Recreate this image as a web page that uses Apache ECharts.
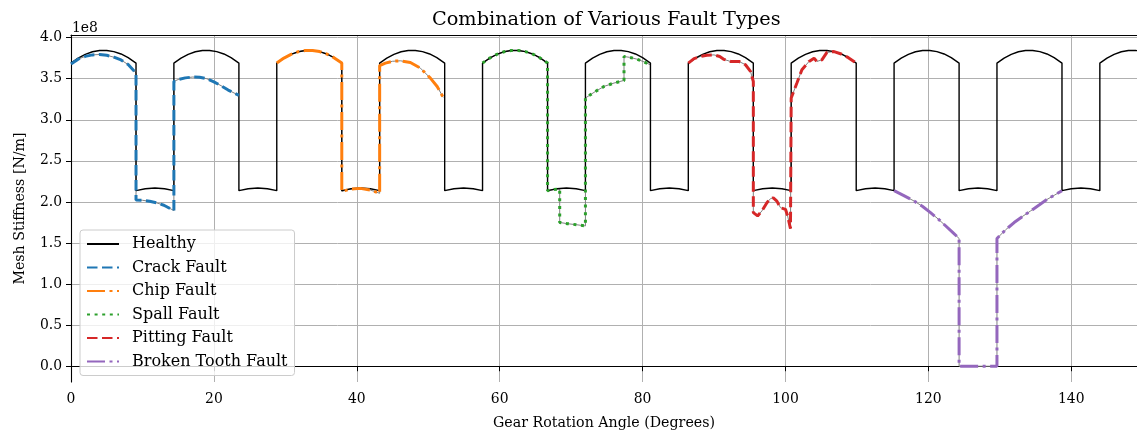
<!DOCTYPE html>
<html><head><meta charset="utf-8">
<script src="https://cdn.jsdelivr.net/npm/echarts@6/dist/echarts.min.js"></script>
<style>html,body{margin:0;padding:0;background:#fff}#c{width:1137px;height:435px}</style>
</head><body><div id="c"></div>
<script>
// x: gear rotation angle (degrees); y: mesh stiffness in units of 1e8 N/m
const xTicks = [0, 20, 40, 60, 80, 100, 120, 140];
const yTicks = [0, 0.5, 1, 1.5, 2, 2.5, 3, 3.5, 4];
const seriesNames = ['Healthy', 'Crack Fault', 'Chip Fault', 'Spall Fault', 'Pitting Fault', 'Broken Tooth Fault'];

const healthy = [
  [0,3.690],[1,3.751],[2,3.797],[3,3.828],[4,3.844],[5,3.844],[6,3.830],[7,3.801],[8,3.756],[9.1,3.690],[9.1,2.137],[10.4,2.161],[11.75,2.169],[13.1,2.161],[14.4,2.137],
  [14.4,3.690],[15.4,3.751],[16.4,3.797],[17.4,3.828],[18.4,3.844],[19.4,3.844],[20.4,3.830],[21.4,3.801],[22.4,3.756],[23.5,3.690],[23.5,2.137],[24.8,2.161],[26.15,2.169],[27.5,2.161],[28.8,2.137],
  [28.8,3.690],[29.8,3.751],[30.8,3.797],[31.8,3.828],[32.8,3.844],[33.8,3.844],[34.8,3.830],[35.8,3.801],[36.8,3.756],[37.9,3.690],[37.9,2.137],[39.2,2.161],[40.55,2.169],[41.9,2.161],[43.2,2.137],
  [43.2,3.690],[44.2,3.751],[45.2,3.797],[46.2,3.828],[47.2,3.844],[48.2,3.844],[49.2,3.830],[50.2,3.801],[51.2,3.756],[52.3,3.690],[52.3,2.137],[53.6,2.161],[54.95,2.169],[56.3,2.161],[57.6,2.137],
  [57.6,3.690],[58.6,3.751],[59.6,3.797],[60.6,3.828],[61.6,3.844],[62.6,3.844],[63.6,3.830],[64.6,3.801],[65.6,3.756],[66.7,3.690],[66.7,2.137],[68.0,2.161],[69.35,2.169],[70.7,2.161],[72.0,2.137],
  [72.0,3.690],[73.0,3.751],[74.0,3.797],[75.0,3.828],[76.0,3.844],[77.0,3.844],[78.0,3.830],[79.0,3.801],[80.0,3.756],[81.1,3.690],[81.1,2.137],[82.4,2.161],[83.75,2.169],[85.1,2.161],[86.4,2.137],
  [86.4,3.690],[87.4,3.751],[88.4,3.797],[89.4,3.828],[90.4,3.844],[91.4,3.844],[92.4,3.830],[93.4,3.801],[94.4,3.756],[95.5,3.690],[95.5,2.137],[96.8,2.161],[98.15,2.169],[99.5,2.161],[100.8,2.137],
  [100.8,3.690],[101.8,3.751],[102.8,3.797],[103.8,3.828],[104.8,3.844],[105.8,3.844],[106.8,3.830],[107.8,3.801],[108.8,3.756],[109.9,3.690],[109.9,2.137],[111.2,2.161],[112.55,2.169],[113.9,2.161],[115.2,2.137],
  [115.2,3.690],[116.2,3.751],[117.2,3.797],[118.2,3.828],[119.2,3.844],[120.2,3.844],[121.2,3.830],[122.2,3.801],[123.2,3.756],[124.3,3.690],[124.3,2.137],[125.6,2.161],[126.95,2.169],[128.3,2.161],[129.6,2.137],
  [129.6,3.690],[130.6,3.751],[131.6,3.797],[132.6,3.828],[133.6,3.844],[134.6,3.844],[135.6,3.830],[136.6,3.801],[137.6,3.756],[138.7,3.690],[138.7,2.137],[140.0,2.161],[141.35,2.169],[142.7,2.161],[144.0,2.137],
  [144.0,3.690],[145.0,3.751],[146.0,3.797],[147.0,3.828],[148.0,3.844],[149.0,3.844],[149.5,3.839]
];

const crack = [
  [0,3.680],[1,3.738],[2,3.772],[3,3.790],[4,3.795],[5,3.785],[6,3.762],[7,3.728],[8,3.672],[9.1,3.570],
  [9.1,2.023],[10,2.020],[11,2.008],[12,1.988],[13,1.960],[14.4,1.895],
  [14.4,3.467],[15,3.490],[16,3.510],[17,3.520],[18,3.518],[19,3.500],[20,3.462],[21,3.415],[22,3.362],[23.5,3.297]
];

const chip = [
  [28.8,3.690],[29.8,3.751],[30.8,3.797],[31.8,3.828],[32.8,3.844],[33.8,3.844],[34.8,3.830],[35.8,3.801],[36.8,3.756],[37.9,3.690],
  [37.9,2.128],[39.2,2.158],[40.5,2.165],[41.9,2.145],[43.2,2.105],
  [43.2,3.660],[44.0,3.690],[45.0,3.712],[46.1,3.718],[47.5,3.697],[48.9,3.629],[50.3,3.507],[51.25,3.406],[52.1,3.272]
];

const spall = [
  [57.6,3.690],[58.6,3.751],[59.6,3.797],[60.6,3.828],[61.6,3.844],[62.6,3.844],[63.6,3.830],[64.6,3.801],[65.6,3.756],[66.7,3.690],
  [66.7,2.137],[67.6,2.152],[68.4,2.158],[68.4,1.750],[69.5,1.735],[70.8,1.722],[72.0,1.708],
  [72.0,3.265],[73.4,3.345],[74.6,3.406],[76.0,3.447],[77.4,3.479],[77.4,3.770],[78.2,3.760],[79.2,3.738],[80.2,3.705],[81.1,3.669]
];

const pitting = [
  [86.4,3.690],[87.2,3.745],[88.1,3.770],[89.0,3.785],[90.0,3.790],[90.8,3.770],[91.4,3.735],[92.3,3.710],[93.5,3.710],[94.4,3.670],[95.1,3.590],[95.5,3.466],
  [95.5,1.870],[96.1,1.830],[96.7,1.890],[97.4,1.990],[97.9,2.040],[98.3,2.050],[98.8,2.010],[99.3,1.930],[100.0,1.910],[100.3,1.830],[100.7,1.676],
  [100.8,3.265],[101.6,3.447],[102.3,3.610],[103.3,3.710],[104.0,3.750],[104.4,3.710],[105.1,3.730],[105.8,3.820],[106.8,3.830],[107.8,3.801],[108.8,3.756],[109.9,3.690]
];

const broken = [
  [115.2,2.137],[116.5,2.080],[118.0,2.011],[119.2,1.945],[120.3,1.870],[121.4,1.790],[122.4,1.710],[123.4,1.630],[124.3,1.555],
  [124.3,0.0],[129.6,0.0],
  [129.6,1.555],[130.8,1.660],[132.0,1.749],[133.2,1.825],[134.3,1.890],[135.5,1.962],[136.6,2.030],[137.7,2.085],[138.7,2.137]
];

const FONT = 'DejaVu Serif';
const faultDefs = [
  { name: 'Crack Fault', data: crack, color: '#1f77b4', dash: [10.5, 4.5] },
  { name: 'Chip Fault', data: chip, color: '#ff7f0e', dash: [18, 4.5, 3, 4.5] },
  { name: 'Spall Fault', data: spall, color: '#2ca02c', dash: [3, 4.6] },
  { name: 'Pitting Fault', data: pitting, color: '#d62728', dash: [10.5, 4.5] },
  { name: 'Broken Tooth Fault', data: broken, color: '#9467bd', dash: [18, 4.5, 3, 4.5] }
];

const series = [];
faultDefs.forEach((f, i) => {
  series.push({
    type: 'line', name: '_under' + i, data: f.data, symbol: 'none', silent: true,
    lineStyle: { color: '#808080', width: 1 }, z: 2
  });
});
series.push({
  type: 'line', name: 'Healthy', data: healthy, symbol: 'none', color: '#000000',
  lineStyle: { color: '#000000', width: 1.4 }, z: 3
});
faultDefs.forEach(f => {
  series.push({
    type: 'line', name: f.name, data: f.data, symbol: 'none', color: f.color,
    lineStyle: { color: f.color, width: 3, type: f.dash, cap: 'butt' }, z: 4
  });
});

const chart = echarts.init(document.getElementById('c'), null, { renderer: 'canvas' });
chart.setOption({
  animation: false,
  backgroundColor: '#ffffff',
  textStyle: { fontFamily: FONT },
  grid: { left: 71, right: 0, top: 35, bottom: 52, containLabel: false },
  graphic: [
    { type: 'text', left: 432, top: 10, style: { text: 'Combination of Various Fault Types', font: '19.3px "DejaVu Serif"', fill: '#000' } },
    { type: 'text', left: 72, top: 21, style: { text: '1e8', font: '13.9px "DejaVu Serif"', fill: '#000' } }
  ],
  legend: {
    data: seriesNames,
    orient: 'vertical', left: 80, top: 230,
    itemWidth: 32, itemHeight: 14, itemGap: 7.5,
    padding: [6, 7, 6, 6],
    backgroundColor: 'rgba(255,255,255,0.8)',
    borderColor: '#cccccc', borderWidth: 1, borderRadius: 3,
    itemStyle: { opacity: 0 },
    textStyle: { fontFamily: FONT, fontSize: 16, lineHeight: 16, color: '#000', padding: [0, 0, 0, 8] }
  },
  xAxis: [{
    type: 'value', min: 0, max: 149.2,
    name: 'Gear Rotation Angle (Degrees)', nameLocation: 'middle', nameGap: 34,
    nameTextStyle: { fontFamily: FONT, fontSize: 14.2, color: '#000' },
    axisLine: { show: true, lineStyle: { color: '#000', width: 1.1 } },
    axisTick: { show: true, inside: false, length: 5, lineStyle: { color: '#000', width: 1 }, customValues: xTicks },
    axisLabel: { show: true, margin: 10, fontFamily: FONT, fontSize: 13.9, color: '#000', customValues: xTicks, formatter: v => String(Math.round(v)) },
    splitLine: { show: true, lineStyle: { color: '#b0b0b0', width: 1 } }
  }, {
    type: 'value', position: 'top', min: 0, max: 149.2,
    axisLine: { show: true, onZero: false, lineStyle: { color: '#000', width: 1.1 } },
    axisTick: { show: false }, axisLabel: { show: false }, splitLine: { show: false }
  }],
  yAxis: {
    type: 'value', min: -0.192, max: 4.032,
    name: 'Mesh Stiffness [N/m]', nameLocation: 'middle', nameGap: 44, nameRotate: 90,
    nameTextStyle: { fontFamily: FONT, fontSize: 14.2, color: '#000' },
    axisLine: { show: true, onZero: false, lineStyle: { color: '#000', width: 1.1 } },
    axisTick: { show: true, inside: false, length: 5, lineStyle: { color: '#000', width: 1 }, customValues: yTicks },
    axisLabel: { show: true, margin: 9, fontFamily: FONT, fontSize: 13.9, color: '#000', customValues: yTicks, formatter: v => v.toFixed(1) },
    splitLine: { show: true, lineStyle: { color: '#b0b0b0', width: 1 } }
  },
  series: series
});
</script>
</body></html>
